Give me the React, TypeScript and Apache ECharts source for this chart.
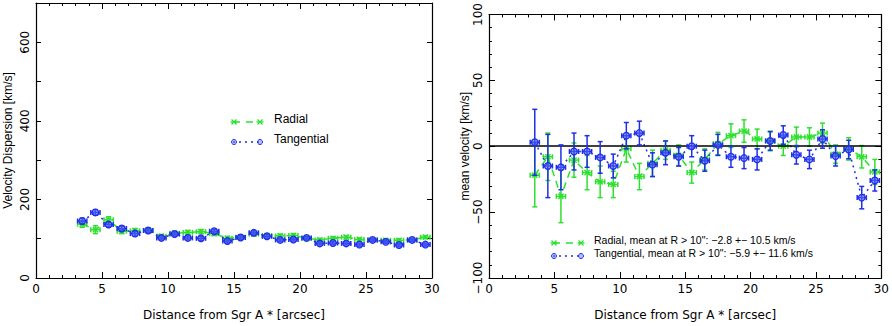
import React, { useEffect, useRef } from "react";
import * as echarts from "echarts";

// ---- data ----
const distances = [3.5, 4.5, 5.5, 6.5, 7.5, 8.5, 9.5, 10.5, 11.5, 12.5, 13.5, 14.5, 15.5, 16.5, 17.5, 18.5, 19.5, 20.5, 21.5, 22.5, 23.5, 24.5, 25.5, 26.5, 27.5, 28.5, 29.5];

const dispRadial = [137, 123, 148, 119, 120, 121, 106, 114, 116, 118, 113, 101, 104, 112, 108, 107, 108, 101, 97, 101, 104, 98, 97, 96, 96, 97, 104];
const dispRadialErr = [8, 10, 8, 6, 6, 6, 5, 5, 5, 5, 5, 5, 5, 5, 5, 5, 5, 5, 4, 4, 4, 4, 4, 4, 4, 4, 4];
const dispTangential = [145, 167, 136, 126, 113, 121, 102, 112, 102, 101, 119, 94, 103, 115, 106, 97, 98, 102, 88, 89, 88, 85, 97, 92, 84, 97, 85];
const dispTangentialErr = [7, 7, 6, 6, 6, 5, 5, 5, 5, 5, 5, 5, 5, 5, 5, 4, 4, 4, 4, 4, 4, 4, 4, 4, 4, 4, 4];

const meanRadial = [-22, -8, -38, -10.5, -20, -27, -29, -2, -23, -13, -3, -7, -20, -10, 2, 8, 11.5, 5.5, 4, 0, 7, 7, 10, -6, -2, -8, -19.5];
const meanRadialErr = [24, 18, 20, 13, 13, 12, 10, 10, 10, 10, 7, 8, 8, 8, 8.5, 9, 8.5, 7.5, 7.5, 7, 7.5, 7, 7.5, 7, 8.5, 8.5, 9.5];
const meanTangential = [3, -15, -16, -4, -4, -8.5, -15, 8, 10, -14, -5, -8, 0, -11, 1, -8, -9, -10, 4, 8.5, -6.5, -10, 5.5, -7.5, -2.5, -39, -26];
const meanTangentialErr = [25, 24, 17, 14, 12, 12, 9, 10, 9, 9, 9, 7, 8, 8, 8, 8, 8, 8, 7, 7, 7, 7, 7, 7.5, 7, 8.5, 8];

const xTitle = "Distance from Sgr A * [arcsec]";
const leftYTitle = "Velocity Dispersion [km/s]";
const rightYTitle = "mean velocity [km/s]";
const leftLegend = ["Radial", "Tangential"];
const rightLegend = [
  "Radial, mean at R > 10\": \u22122.8 +\u2212 10.5 km/s",
  "Tangential, mean at R > 10\": \u22125.9 +\u2212 11.6 km/s",
];

const GREEN = "#2ee02e";
const BLUE = "#1f2fe8";
const FONT = "DejaVu Sans";
const FONT2 = "Liberation Sans";

function errData(vals: number[], errs: number[]) {
  return distances.map((x, i) => [x, vals[i], errs[i]]);
}
function lineData(vals: number[]) {
  return distances.map((x, i) => [x, vals[i]]);
}

function makeRenderItem(kind: "star" | "circle", color: string) {
  return (params: any, api: any) => {
    const x = api.value(0);
    const y = api.value(1);
    const e = api.value(2);
    const c = api.coord([x, y]);
    const top = api.coord([x, y + e]);
    const bot = api.coord([x, y - e]);
    const l = api.coord([x - 0.35, y]);
    const r = api.coord([x + 0.35, y]);
    const cap = 2.5;
    const st = { stroke: color, lineWidth: 1.5 };
    const children: any[] = [
      { type: "line", shape: { x1: c[0], y1: top[1], x2: c[0], y2: bot[1] }, style: st },
      { type: "line", shape: { x1: c[0] - cap, y1: top[1], x2: c[0] + cap, y2: top[1] }, style: st },
      { type: "line", shape: { x1: c[0] - cap, y1: bot[1], x2: c[0] + cap, y2: bot[1] }, style: st },
      { type: "line", shape: { x1: l[0], y1: c[1], x2: r[0], y2: c[1] }, style: st },
      { type: "line", shape: { x1: l[0], y1: c[1] - cap, x2: l[0], y2: c[1] + cap }, style: st },
      { type: "line", shape: { x1: r[0], y1: c[1] - cap, x2: r[0], y2: c[1] + cap }, style: st },
    ];
    if (kind === "circle") {
      children.push({
        type: "circle",
        shape: { cx: c[0], cy: c[1], r: 3.3 },
        style: { stroke: color, fill: "rgba(90,100,255,0.55)", lineWidth: 1.3 },
      });
    } else {
      const d = 2.6;
      children.push(
        { type: "line", shape: { x1: c[0] - d, y1: c[1] - d, x2: c[0] + d, y2: c[1] + d }, style: st },
        { type: "line", shape: { x1: c[0] - d, y1: c[1] + d, x2: c[0] + d, y2: c[1] - d }, style: st }
      );
    }
    return { type: "group", children };
  };
}

const tickStyle = { color: "#000", width: 1 };

function xAxis(gridIndex: number, position: "bottom" | "top", main: boolean) {
  return {
    type: "value",
    gridIndex,
    position,
    min: 0,
    max: 30,
    interval: 5,
    axisLine: { show: true, onZero: false, lineStyle: { color: "#000", width: 1.2 } },
    axisTick: { show: true, inside: true, length: 6, lineStyle: tickStyle },
    minorTick: { show: true, splitNumber: 5, length: 3, lineStyle: tickStyle },
    splitLine: { show: false },
    axisLabel: { show: main, color: "#000", fontFamily: FONT, fontSize: 12, margin: 5 },
    name: main ? xTitle : "",
    nameLocation: "middle",
    nameGap: 31,
    nameTextStyle: { color: "#000", fontFamily: FONT, fontSize: 12 },
  };
}

function fmtNum(v: number) {
  return v < 0 ? "\u2212" + Math.abs(v) : String(v);
}

function leftYAxis(position: "left" | "right", main: boolean) {
  return {
    type: "value",
    gridIndex: 0,
    position,
    min: 0,
    max: 700,
    interval: 100,
    axisLine: { show: true, onZero: false, lineStyle: { color: "#000", width: 1.2 } },
    axisTick: { show: true, inside: true, length: 5, lineStyle: tickStyle },
    splitLine: { show: false },
    axisLabel: {
      show: main,
      rotate: 90,
      color: "#000",
      fontFamily: FONT,
      fontSize: 12,
      margin: 5,
      formatter: (v: number) => (v % 200 === 0 && v < 700 ? fmtNum(v) : ""),
    },
    name: main ? leftYTitle : "",
    nameLocation: "middle",
    nameGap: 22,
    nameTextStyle: { color: "#000", fontFamily: FONT2, fontSize: 12 },
  };
}

function rightYAxis(position: "left" | "right", main: boolean) {
  return {
    type: "value",
    gridIndex: 1,
    position,
    min: -100,
    max: 100,
    interval: 50,
    axisLine: { show: true, onZero: false, lineStyle: { color: "#000", width: 1.2 } },
    axisTick: { show: true, inside: true, length: 6, lineStyle: tickStyle },
    minorTick: { show: true, splitNumber: 5, length: 3, lineStyle: tickStyle },
    splitLine: { show: false },
    axisLabel: {
      show: main,
      rotate: 90,
      color: "#000",
      fontFamily: FONT,
      fontSize: 12,
      margin: 5,
      formatter: (v: number) => fmtNum(v),
    },
    name: main ? rightYTitle : "",
    nameLocation: "middle",
    nameGap: 18,
    nameTextStyle: { color: "#000", fontFamily: FONT2, fontSize: 12 },
  };
}

function starMarker(cx: number, cy: number) {
  const d = 2.5;
  const st = { stroke: GREEN, lineWidth: 1.3 };
  return {
    type: "group",
    children: [
      { type: "line", shape: { x1: cx - d, y1: cy - d, x2: cx + d, y2: cy + d }, style: st },
      { type: "line", shape: { x1: cx - d, y1: cy + d, x2: cx + d, y2: cy - d }, style: st },
      { type: "line", shape: { x1: cx - d - 1, y1: cy, x2: cx + d + 1, y2: cy }, style: st },
    ],
  };
}
function circleMarker(cx: number, cy: number) {
  return {
    type: "circle",
    shape: { cx, cy, r: 2.5 },
    style: { stroke: BLUE, fill: "rgba(120,130,255,0.5)", lineWidth: 1 },
  };
}

function legendBlock(x1: number, x2: number, y: number, textX: number, texts: string[], fontFamily: string, fontSize: number, dy: number) {
  const els: any[] = [];
  els.push({
    type: "line",
    shape: { x1, y1: y, x2, y2: y },
    style: { stroke: GREEN, lineWidth: 1.6, lineDash: [7, 6] },
  });
  els.push(starMarker(x1 + 1, y), starMarker(x2 - 1, y));
  els.push({
    type: "line",
    shape: { x1, y1: y + dy, x2, y2: y + dy },
    style: { stroke: BLUE, lineWidth: 1.5, lineDash: [2, 4] },
  });
  els.push(circleMarker(x1 + 1, y + dy), circleMarker(x2 - 1, y + dy));
  texts.forEach((t, i) => {
    els.push({
      type: "text",
      x: textX,
      y: y - 3 + i * dy,
      style: { text: t, fill: "#000", font: `${fontSize}px "${fontFamily}"`, textVerticalAlign: "middle", textAlign: "left" },
    });
  });
  return els;
}

export default function App() {
  const ref = useRef<HTMLDivElement>(null);
  useEffect(() => {
    if (!ref.current) return;
    const chart = echarts.init(ref.current, undefined, { renderer: "svg" });
    const option: any = {
      animation: false,
      backgroundColor: "#fff",
      grid: [
        { left: 36, top: 1, width: 396, height: 280 },
        { left: 489, top: 10, width: 396, height: 273 },
      ],
      xAxis: [xAxis(0, "bottom", true), xAxis(0, "top", false), xAxis(1, "bottom", true), xAxis(1, "top", false)],
      yAxis: [leftYAxis("left", true), leftYAxis("right", false), rightYAxis("left", true), rightYAxis("right", false)],
      series: [
        // left panel
        {
          type: "line",
          xAxisIndex: 0,
          yAxisIndex: 0,
          data: lineData(dispRadial),
          symbol: "none",
          lineStyle: { color: GREEN, width: 1.5, type: [7, 5] },
          z: 2,
        },
        {
          type: "custom",
          xAxisIndex: 0,
          yAxisIndex: 0,
          data: errData(dispRadial, dispRadialErr),
          renderItem: makeRenderItem("star", GREEN),
          z: 3,
        },
        {
          type: "line",
          xAxisIndex: 0,
          yAxisIndex: 0,
          data: lineData(dispTangential),
          symbol: "none",
          lineStyle: { color: BLUE, width: 1.5, type: [2, 4] },
          z: 4,
        },
        {
          type: "custom",
          xAxisIndex: 0,
          yAxisIndex: 0,
          data: errData(dispTangential, dispTangentialErr),
          renderItem: makeRenderItem("circle", BLUE),
          z: 5,
        },
        // right panel
        {
          type: "line",
          xAxisIndex: 2,
          yAxisIndex: 2,
          data: lineData(meanRadial),
          symbol: "none",
          lineStyle: { color: GREEN, width: 1.5, type: [7, 5] },
          z: 2,
          markLine: {
            silent: true,
            symbol: ["none", "none"],
            label: { show: false },
            lineStyle: { color: "#000", type: "solid", width: 1.5 },
            data: [{ yAxis: 0 }],
          },
        },
        {
          type: "custom",
          xAxisIndex: 2,
          yAxisIndex: 2,
          data: errData(meanRadial, meanRadialErr),
          renderItem: makeRenderItem("star", GREEN),
          z: 3,
        },
        {
          type: "line",
          xAxisIndex: 2,
          yAxisIndex: 2,
          data: lineData(meanTangential),
          symbol: "none",
          lineStyle: { color: BLUE, width: 1.5, type: [2, 4] },
          z: 4,
        },
        {
          type: "custom",
          xAxisIndex: 2,
          yAxisIndex: 2,
          data: errData(meanTangential, meanTangentialErr),
          renderItem: makeRenderItem("circle", BLUE),
          z: 5,
        },
      ],
      graphic: [
        ...legendBlock(233, 261, 122, 274, leftLegend, FONT2, 12, 20),
        ...legendBlock(553, 582, 243, 594, rightLegend, FONT2, 10.5, 13),
      ],
    };
    chart.setOption(option);
    return () => chart.dispose();
  }, []);
  return (
    <div
      ref={ref}
      style={{ position: "fixed", left: 0, top: 0, width: 892, height: 326, background: "#fff" }}
    />
  );
}
